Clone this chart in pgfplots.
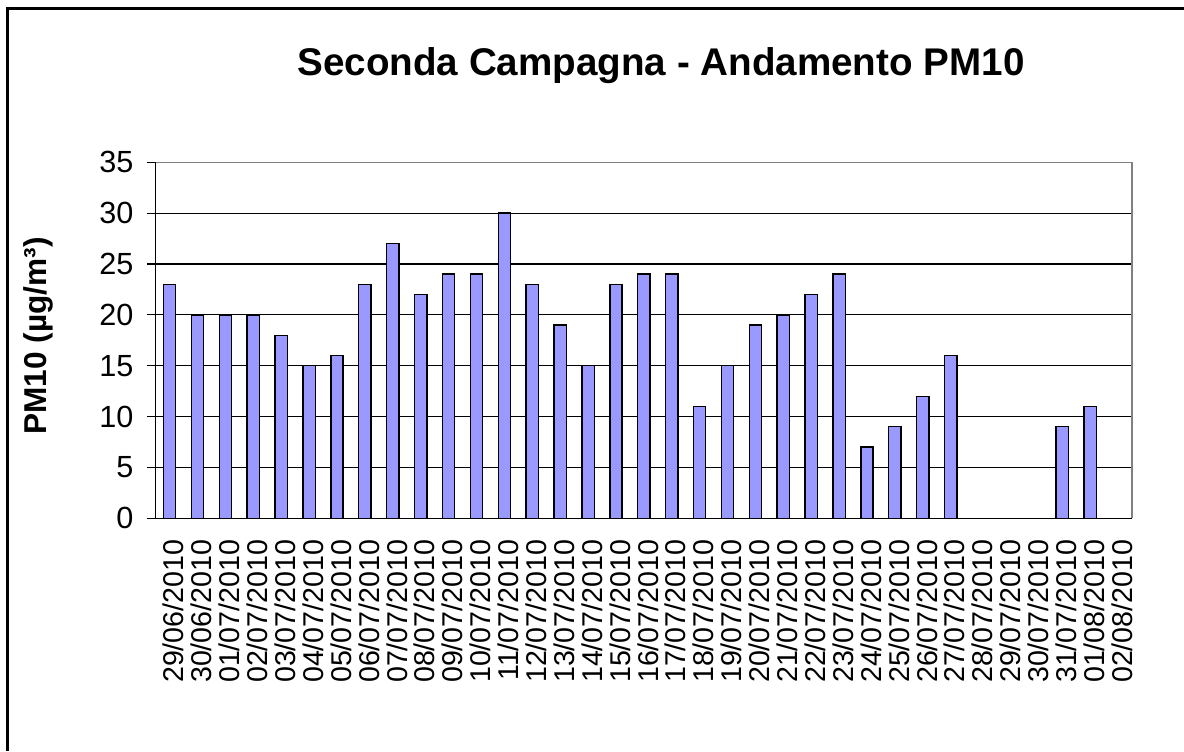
\documentclass[border=0pt]{standalone}
\usepackage{fontspec}
\setmainfont{Liberation Sans}
\usepackage{pgfplots}
\pgfplotsset{compat=1.18}
\definecolor{barblue}{HTML}{9999FF}
\begin{document}
\begin{tikzpicture}
\path[use as bounding box] (-77.85pt,-116.35pt) rectangle (514.15pt,259.15pt);
\draw[line width=1.1pt,black] (-74.1pt,-116.35pt) -- (-74.1pt,254.9pt) -- (514.15pt,254.9pt);
\begin{axis}[
  at={(0pt,0pt)}, anchor=south west,
  scale only axis, width=488.15pt, height=178pt,
  xmin=-0.5, xmax=34.5, ymin=0, ymax=35,
  axis x line*=bottom, axis y line*=left,
  axis line style={black, line width=0.7pt},
  ytick={0,5,...,35},
  ymajorgrids, grid style={black, line width=0.55pt},
  xtick={0,...,34},
  xticklabels={29/06/2010,30/06/2010,01/07/2010,02/07/2010,03/07/2010,04/07/2010,05/07/2010,06/07/2010,07/07/2010,08/07/2010,09/07/2010,10/07/2010,11/07/2010,12/07/2010,13/07/2010,14/07/2010,15/07/2010,16/07/2010,17/07/2010,18/07/2010,19/07/2010,20/07/2010,21/07/2010,22/07/2010,23/07/2010,24/07/2010,25/07/2010,26/07/2010,27/07/2010,28/07/2010,29/07/2010,30/07/2010,31/07/2010,01/08/2010,02/08/2010},
  minor xtick={-0.5,0.5,...,34.5},
  tick align=outside,
  xtick style={draw=none},
  minor x tick style={black, line width=0.6pt},
  minor tick length=4.5pt,
  ytick style={black, line width=0.6pt},
  major tick length=4.5pt,
  xticklabel style={rotate=90, anchor=east, font=\fontsize{14.3}{16}\selectfont, inner sep=0pt, yshift=-2pt, xshift=-6pt},
  yticklabel style={font=\fontsize{15.3}{18}\selectfont, inner sep=0pt, xshift=-6.5pt},
  /pgf/number format/assume math mode=true,
  clip=false,
]
\addplot[ybar, bar width=6.15pt, fill=barblue, draw=black, line width=0.7pt] coordinates {
(0,23) (1,20) (2,20) (3,20) (4,18) (5,15) (6,16) (7,23) (8,27) (9,22)
(10,24) (11,24) (12,30) (13,23) (14,19) (15,15) (16,23) (17,24) (18,24) (19,11)
(20,15) (21,19) (22,20) (23,22) (24,24) (25,7) (26,9) (27,12) (28,16)
(32,9) (33,11)
};
\draw[gray, line width=0.8pt] (rel axis cs:0,1) -- (rel axis cs:1,1) -- (rel axis cs:1,0);
\end{axis}
\node[anchor=base, font=\bfseries\fontsize{19.3}{22}\selectfont, inner sep=0pt] at (252.65pt,221.3pt) {Seconda Campagna - Andamento PM10};
\node[rotate=90, font=\bfseries\fontsize{15.8}{18}\selectfont, inner sep=0pt] at (-58.85pt,91.15pt) {PM10 (µg/m³)};
\end{tikzpicture}
\end{document}
